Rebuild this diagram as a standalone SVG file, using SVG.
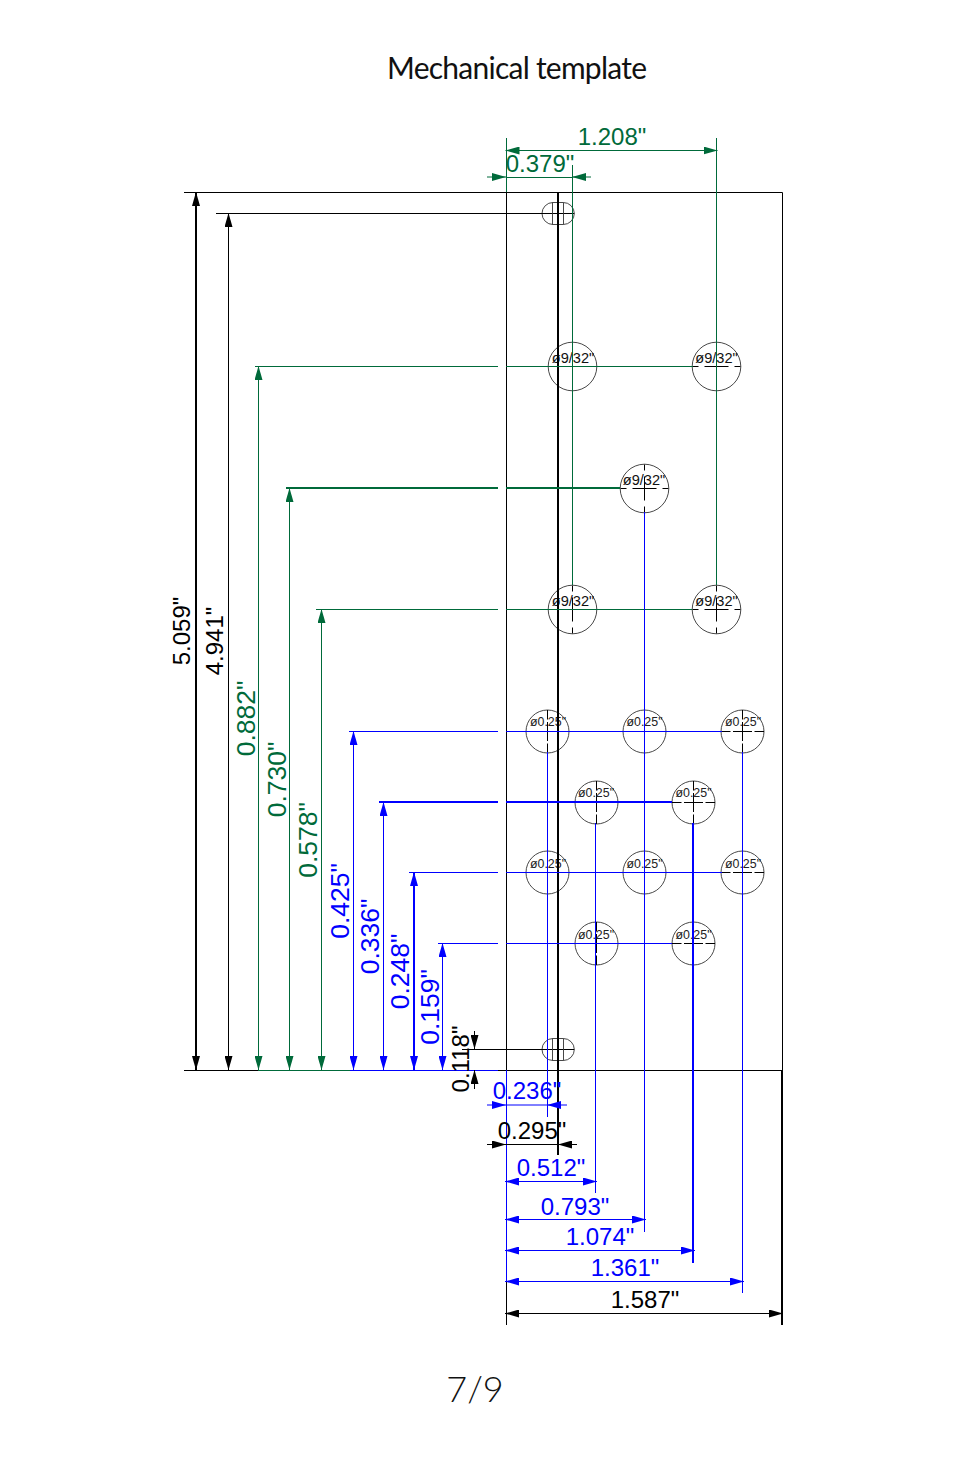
<svg xmlns="http://www.w3.org/2000/svg" width="954" height="1475" viewBox="0 0 954 1475">
<style>
.k{stroke:#000}.g{stroke:#006a3a}.b{stroke:#0000ff}
line,path,circle,rect{fill:none;stroke-width:1}
.t{stroke-width:2}
text{font-family:"Liberation Sans",Arial,sans-serif;font-size:24px;text-anchor:middle}
.tk{fill:#000}.tg{fill:#006a3a}.tb{fill:#0000ff}
.v{font-size:26.5px}
.hole{stroke:#333;stroke-width:.9}
.cl{stroke:#000;stroke-width:1}
.s{font-size:12.4px;fill:#222}.m{font-size:14.6px;fill:#111}
.ttl{font-family:Lato,"Open Sans",sans-serif;font-size:30px;fill:#111}
.pg{font-family:Lato,"Open Sans",sans-serif;font-weight:300;font-size:36px;fill:#111}
.akk{marker-start:url(#ak);marker-end:url(#ak)}.agg{marker-start:url(#ag);marker-end:url(#ag)}.abb{marker-start:url(#ab);marker-end:url(#ab)}
.ak{marker-end:url(#ak)}.ag{marker-end:url(#ag)}.ab{marker-end:url(#ab)}
</style>
<defs>
<marker id="ak" markerUnits="userSpaceOnUse" markerWidth="14" markerHeight="8" refX="14" refY="4" orient="auto-start-reverse"><path d="M0 0L14 4L0 8Z" style="fill:#000;stroke:none"/></marker>
<marker id="ag" markerUnits="userSpaceOnUse" markerWidth="14" markerHeight="8" refX="14" refY="4" orient="auto-start-reverse"><path d="M0 0L14 4L0 8Z" style="fill:#006a3a;stroke:none"/></marker>
<marker id="ab" markerUnits="userSpaceOnUse" markerWidth="14" markerHeight="8" refX="14" refY="4" orient="auto-start-reverse"><path d="M0 0L14 4L0 8Z" style="fill:#0000ff;stroke:none"/></marker>
<g id="x24"><circle r="24.300" class="hole"/><path class="cl" d="M-24 0H-18M-12 0H12M18 0H24M0 -24V-18M0 -12V12M0 18V24"/></g>
<g id="x21"><circle r="21.500" class="hole"/><path class="cl" d="M-21.500 0H-12M-9.500 0H9.500M12 0H21.500M0 -21.500V-12M0 -9.500V9.500M0 12V21.500"/></g>
<g id="slot"><rect x="-16" y="-11" width="32.300" height="22" rx="11" class="hole"/><path class="cl" d="M-16 0H16.300"/><path class="hole" d="M-5.500 -11V11M5.500 -11V11"/></g>
</defs>
<text class="ttl" x="517" y="79" textLength="260" lengthAdjust="spacing">Mechanical template</text>
<text x="475" y="1402" class="pg">7/9</text>

<g id="hole-1"><use href="#slot" x="558" y="213.500"/></g>
<g id="hole-2"><use href="#slot" x="558" y="1049.500"/></g>
<g id="hole-3"><use href="#x24" x="572.500" y="366.500"/><text class="m" x="573" y="363">ø9/32"</text></g>
<g id="hole-4"><use href="#x24" x="716.500" y="366.500"/><text class="m" x="716.500" y="363">ø9/32"</text></g>
<g id="hole-5"><use href="#x24" x="644.500" y="488.500"/><text class="m" x="644" y="485">ø9/32"</text></g>
<g id="hole-6"><use href="#x24" x="572.500" y="609.500"/><text class="m" x="573" y="606">ø9/32"</text></g>
<g id="hole-7"><use href="#x24" x="716.500" y="609.500"/><text class="m" x="716.500" y="606">ø9/32"</text></g>
<g id="hole-8"><use href="#x21" x="547.500" y="731.500"/><text class="s" x="548" y="726">ø0.25"</text></g>
<g id="hole-9"><use href="#x21" x="644.500" y="731.500"/><text class="s" x="644.500" y="726">ø0.25"</text></g>
<g id="hole-10"><use href="#x21" x="742.500" y="731.500"/><text class="s" x="743" y="726">ø0.25"</text></g>
<g id="hole-11"><use href="#x21" x="596.500" y="802.500"/><text class="s" x="596" y="797">ø0.25"</text></g>
<g id="hole-12"><use href="#x21" x="693.500" y="802.500"/><text class="s" x="693.500" y="797">ø0.25"</text></g>
<g id="hole-13"><use href="#x21" x="547.500" y="872.500"/><text class="s" x="548" y="868">ø0.25"</text></g>
<g id="hole-14"><use href="#x21" x="644.500" y="872.500"/><text class="s" x="644.500" y="868">ø0.25"</text></g>
<g id="hole-15"><use href="#x21" x="742.500" y="872.500"/><text class="s" x="743" y="868">ø0.25"</text></g>
<g id="hole-16"><use href="#x21" x="596.500" y="943.500"/><text class="s" x="596" y="939">ø0.25"</text></g>
<g id="hole-17"><use href="#x21" x="693.500" y="943.500"/><text class="s" x="693.500" y="939">ø0.25"</text></g>

<g id="connectors">
<path class="k" d="M184 192.500H782.500V1070M184 1070.500H258M498 1070.500H782"/>
<path class="k" d="M506.500 192V1070M506.500 1281V1325"/>
<path class="g" d="M506.500 138V192M258 1070.500H350"/>
<path class="b" d="M350 1070.500H498M506.500 1070V1281"/>
<path class="k t" d="M558 192V1155M782 1070V1325"/>
<path class="k" d="M216 213.500H545M462 1049.500H542"/>
<path class="g" d="M255 366.500H498M506 366.500H693M316 609.500H498M506 609.500H692"/>
<path class="g t" d="M286 488H498M506 488H620"/>
<path class="b" d="M349 731.500H498M506 731.500H722M409 872.500H498M506 872.500H722M438 943.500H498M506 943.500H672"/>
<path class="b t" d="M379 802H498M506 802H672"/>
<path class="g" d="M572.500 165V585M716.500 138V585"/>
<path class="b" d="M547.500 752V1117M595.500 823V1193M644.500 512V1232M742.500 752V1293"/>
<path class="b t" d="M693 823V1263"/>
<line x1="196" y1="192" x2="196" y2="1070" class="k t akk"/>
<line x1="228.500" y1="213" x2="228.500" y2="1070" class="k akk"/>
<line x1="258.500" y1="366" x2="258.500" y2="1070" class="g agg"/>
<line x1="289.500" y1="488" x2="289.500" y2="1070" class="g agg"/>
<line x1="321.500" y1="609" x2="321.500" y2="1070" class="g agg"/>
<line x1="353.500" y1="731" x2="353.500" y2="1070" class="b abb"/>
<line x1="383.500" y1="802" x2="383.500" y2="1070" class="b abb"/>
<line x1="414" y1="872" x2="414" y2="1070" class="b t abb"/>
<line x1="442.500" y1="943" x2="442.500" y2="1070" class="b abb"/>
<path class="k ak" d="M474.500 1031V1049"/>
<path class="k ak" d="M474.500 1089V1070"/>
<line x1="505.500" y1="150.500" x2="717.500" y2="150.500" class="g agg"/>
<path class="g ag" d="M487 177H506"/>
<path class="g ag" d="M591 177H572"/>
<path class="g" d="M506 177.500H572"/>
<path class="b ab" d="M487 1105H506"/>
<path class="b ab" d="M567 1105H547"/>
<path class="b" d="M506 1105H547"/>
<path class="k ak" d="M487 1144.500H506"/>
<path class="k ak" d="M577 1144.500H558"/>
<path class="k" d="M506 1144.500H558"/>
<line x1="505" y1="1181.500" x2="597" y2="1181.500" class="b abb"/>
<line x1="505" y1="1219.500" x2="646" y2="1219.500" class="b abb"/>
<line x1="505" y1="1250.500" x2="695" y2="1250.500" class="b abb"/>
<line x1="505" y1="1281.500" x2="744" y2="1281.500" class="b abb"/>
<line x1="505" y1="1313.500" x2="783" y2="1313.500" class="k akk"/>
</g>
<g id="dimension-labels">
<text class="tg" x="612" y="145">1.208"</text>
<text class="tg" x="540" y="172">0.379"</text>
<text class="tb" x="527" y="1099">0.236"</text>
<text class="tk" x="532" y="1139">0.295"</text>
<text class="tb" x="551" y="1176">0.512"</text>
<text class="tb" x="575" y="1215">0.793"</text>
<text class="tb" x="600" y="1245">1.074"</text>
<text class="tb" x="625" y="1276">1.361"</text>
<text class="tk" x="645" y="1308">1.587"</text>
<text class="tk" transform="translate(190,631) rotate(-90)">5.059"</text>
<text class="tk" transform="translate(223,641) rotate(-90)">4.941"</text>
<text class="tg v" transform="translate(254.500,718.500) rotate(-90)">0.882"</text>
<text class="tg v" transform="translate(285.500,779.500) rotate(-90)">0.730"</text>
<text class="tg v" transform="translate(316.500,840) rotate(-90)">0.578"</text>
<text class="tb v" transform="translate(349,901) rotate(-90)">0.425"</text>
<text class="tb v" transform="translate(379,936.500) rotate(-90)">0.336"</text>
<text class="tb v" transform="translate(409,971.500) rotate(-90)">0.248"</text>
<text class="tb v" transform="translate(438.500,1007) rotate(-90)">0.159"</text>
<text class="tk" transform="translate(469,1059) rotate(-90)">0.118"</text>
</g>
</svg>
